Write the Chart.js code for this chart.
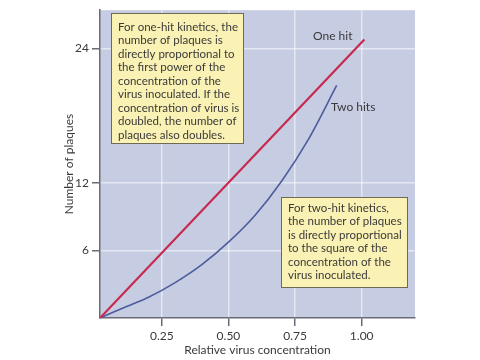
<!DOCTYPE html>
<html>
<head>
<meta charset="utf-8">
<script src="https://cdn.jsdelivr.net/npm/chart.js@4.4.1/dist/chart.umd.min.js"></script>
<style>
  html, body { margin: 0; padding: 0; background: #fff; }
  #wrap { width: 480px; height: 360px; }
</style>
</head>
<body>
<div id="wrap"><canvas id="chart-plaques"></canvas></div>
<script>
// values
const oneHitX = [0.018, 1.01];
const oneHitY = [0, 24.8];
const twoHitX = [0.018, 0.1, 0.2, 0.3, 0.4, 0.5, 0.6, 0.7, 0.8, 0.906];
const twoHitY = [0, 0.85, 1.85, 3.15, 4.75, 6.75, 9.15, 12.2, 15.9, 20.7];
const xTicks = [0.25, 0.5, 0.75, 1.0];
const yTicks = [6, 12, 24];

const noteOne = ['For one-hit kinetics, the', 'number of plaques is', 'directly proportional to',
  'the first power of the', 'concentration of the', 'virus inoculated. If the',
  'concentration of virus is', 'doubled, the number of', 'plaques also doubles.'];
const noteTwo = ['For two-hit kinetics,', 'the number of plaques', 'is directly proportional',
  'to the square of the', 'concentration of the', 'virus inoculated.'];

const FONT = 'Lato, "DejaVu Sans", sans-serif';
const textColor = '#3a3a3a';

function toPoints(xs, ys) {
  return xs.map((x, i) => ({x: x, y: ys[i]}));
}

// lavender plot background
const plotBg = {
  id: 'plotBg',
  beforeDraw(chart) {
    const {ctx, chartArea: a} = chart;
    ctx.save();
    ctx.fillStyle = '#c6cce2';
    ctx.fillRect(a.left, a.top, a.right - a.left, a.bottom - a.top);
    ctx.restore();
  }
};

// text boxes and line labels
const notes = {
  id: 'notes',
  afterDatasetsDraw(chart) {
    const ctx = chart.ctx;
    ctx.save();
    drawBox(ctx, 111, 13, 132, 130, noteOne, 118, 27);
    drawBox(ctx, 281, 197, 126, 90, noteTwo, 288, 208);
    ctx.font = '12px ' + FONT;
    ctx.fillStyle = textColor;
    ctx.textBaseline = 'middle';
    ctx.fillText('One hit', 313, 36);
    ctx.fillText('Two hits', 331, 107);
    ctx.restore();
  }
};

function drawBox(ctx, x, y, w, h, lines, tx, ty) {
  ctx.fillStyle = '#faf1b4';
  ctx.fillRect(x, y, w, h);
  ctx.strokeStyle = '#6e6a55';
  ctx.lineWidth = 1;
  ctx.strokeRect(x + 0.5, y + 0.5, w, h);
  ctx.fillStyle = textColor;
  ctx.font = '11.5px ' + FONT;
  ctx.textBaseline = 'middle';
  lines.forEach((t, i) => ctx.fillText(t, tx, ty + i * 13.5));
}

const chartPlaques = document.getElementById('chart-plaques');

new Chart(chartPlaques, {
  type: 'scatter',
  data: {
    datasets: [{
      label: 'One hit',
      data: toPoints(oneHitX, oneHitY),
      showLine: true,
      borderColor: '#c8284e',
      borderWidth: 2.2,
      pointRadius: 0
    }, {
      label: 'Two hits',
      data: toPoints(twoHitX, twoHitY),
      showLine: true,
      borderColor: '#4d5c9c',
      borderWidth: 1.6,
      pointRadius: 0,
      cubicInterpolationMode: 'monotone'
    }]
  },
  plugins: [plotBg, notes],
  options: {
    responsive: true,
    maintainAspectRatio: false,
    animation: false,
    events: [],
    layout: { padding: { left: 0, right: 65, top: 3, bottom: 0 } },
    plugins: {
      legend: { display: false },
      tooltip: { enabled: false }
    },
    scales: {
      x: {
        type: 'linear',
        min: 0.018,
        max: 1.2,
        afterBuildTicks: s => { s.ticks = xTicks.map(v => ({value: v})); },
        afterFit: s => { s.height = 42; },
        grid: { color: 'rgba(255,255,255,0.55)', lineWidth: 1.5, tickColor: '#6a6a78', tickLength: 8 },
        border: { color: '#6a6a78', width: 1.5 },
        ticks: {
          color: textColor, font: { family: FONT, size: 12 }, padding: 3, maxRotation: 0,
          callback: v => v.toFixed(2)
        },
        title: {
          display: true, text: 'Relative virus concentration', color: textColor,
          font: { family: FONT, size: 12 }, padding: { top: 0, bottom: 3 }
        }
      },
      y: {
        min: 0,
        max: 27.4,
        afterBuildTicks: s => { s.ticks = yTicks.map(v => ({value: v})); },
        afterFit: s => { s.width = 100; },
        grid: { color: 'rgba(255,255,255,0.55)', lineWidth: 1.5, tickColor: '#6a6a78', tickLength: 8 },
        border: { color: '#6a6a78', width: 1.5 },
        ticks: { color: textColor, font: { family: FONT, size: 12 }, padding: 3 },
        title: {
          display: true, text: 'Number of plaques', color: textColor,
          font: { family: FONT, size: 12 }, padding: { top: 62, bottom: 0 }
        }
      }
    }
  }
});
</script>
</body>
</html>
